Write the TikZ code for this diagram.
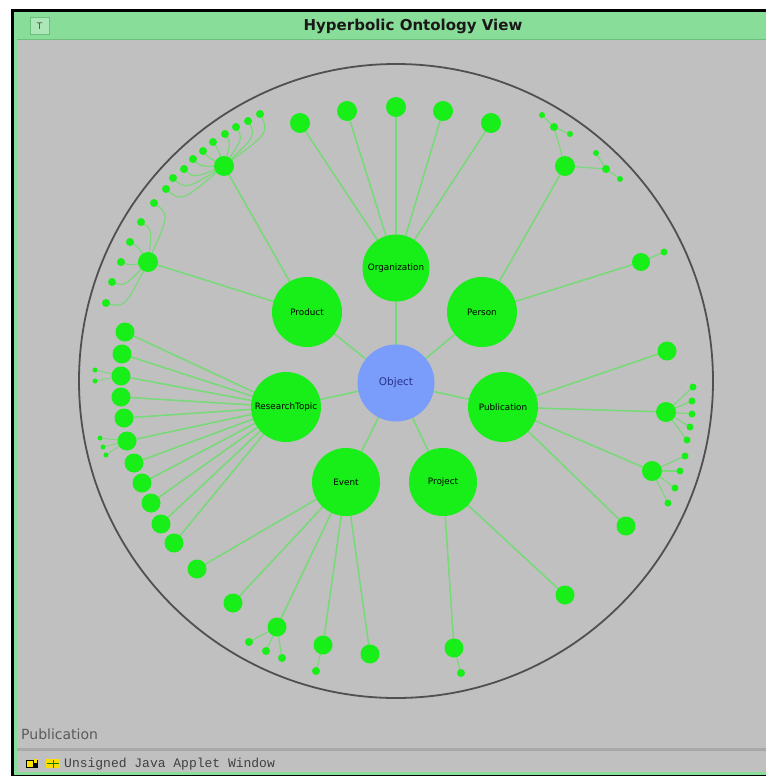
\documentclass[tikz,border=0pt]{standalone}
\usepackage{fontspec}
\setmainfont{DejaVu Sans}
\newfontfamily\monofont{Liberation Mono}
\usetikzlibrary{calc}
\definecolor{winbg}{RGB}{192,192,192}
\definecolor{titlegreen}{RGB}{136,222,152}
\definecolor{titleedge}{RGB}{112,190,126}
\definecolor{ngreen}{RGB}{24,238,24}
\definecolor{egreen}{RGB}{118,218,118}
\definecolor{objblue}{RGB}{122,156,250}
\definecolor{objtext}{RGB}{40,50,140}
\definecolor{rimgray}{RGB}{80,80,80}
\definecolor{sepgray}{RGB}{168,168,168}
\definecolor{stattext}{RGB}{90,90,90}
\pgfdeclarelayer{bg}
\pgfdeclarelayer{edges}
\pgfsetlayers{bg,edges,main}
\begin{document}
\begin{tikzpicture}[x=1pt,y=-1pt,
  big/.style={circle,fill=ngreen,minimum size=70pt,inner sep=0pt,text=black,font=\fontsize{8.8}{9}\selectfont},
  kid/.style={circle,fill=ngreen,minimum size=19pt,inner sep=0pt},
  dot/.style={circle,fill=ngreen,minimum size=8pt,inner sep=0pt},
  tiny/.style={circle,fill=ngreen,minimum size=6pt,inner sep=0pt},
  link/.style={draw=egreen,line width=1.5pt},
  twig/.style={draw=egreen,line width=1.1pt}]
\useasboundingbox (0,0) rectangle (766,776);
% ---------- window ----------
\begin{pgfonlayer}{bg}
\fill[white] (0,0) rectangle (766,776);
\fill[black] (11,9) rectangle (766,12);
\fill[black] (11,9) rectangle (14,776);
\fill[titlegreen] (14,12) rectangle (766,40);
\fill[titlegreen] (14,12) rectangle (17,776);
\fill[winbg] (17,40) rectangle (766,771.5);
\fill[titleedge] (17,39) rectangle (766,40.5);
\fill[sepgray] (17,748) rectangle (766,750.5);
\fill[titlegreen] (14,771.5) rectangle (766,774.5);
\fill[black] (14,774.5) rectangle (766,776);
\draw[rimgray,line width=1.8pt] (396,381) circle[radius=317pt];
% status bar icons
\fill[black] (26,760) rectangle (38,768);
\fill[yellow!85!orange] (27,761) rectangle (33,767);
\fill[yellow!85!orange] (34,759) rectangle (37,763);
\fill[yellow!80!orange] (46,759) rectangle (60,768);
\draw[green!50!black,line width=0.8pt] (47,763.5) -- (59,763.5) (53,759.5) -- (53,767.5);
\end{pgfonlayer}
\node[draw=titleedge,line width=1pt,fill=titlegreen!70!white,minimum width=19pt,minimum height=17pt,inner sep=0pt,text=black!70,font=\fontsize{9}{9}\selectfont] (icon) at (39.5,26) {T};
\node[font=\bfseries\fontsize{15}{15}\selectfont,text=black!90] (title) at (413,26) {Hyperbolic Ontology View};
\node[anchor=west,font=\fontsize{14}{14}\selectfont,text=stattext,inner sep=0pt] (selected) at (21,734) {Publication};
\node[anchor=west,font=\monofont\fontsize{13}{13}\selectfont,text=black!75,inner sep=0pt] (applet) at (64,764) {Unsigned Java Applet Window};
% ---------- main nodes ----------
\node[circle,fill=objblue,minimum size=77pt,inner sep=0pt,text=objtext,font=\fontsize{10.5}{11}\selectfont] (O) at (396,383) {Object};
\node[big,minimum size=67pt] (org) at (396,268) {Organization};
\node[big] (prod) at (307,312) {Product};
\node[big] (pers) at (482,312) {Person};
\node[big] (rt) at (286,407) {ResearchTopic};
\node[big] (pub) at (503,407) {Publication};
\node[big,minimum size=68pt] (ev) at (346,482) {Event};
\node[big,minimum size=68pt] (proj) at (443,482) {Project};
% Organization children
\foreach \x/\y [count=\i] in {300/123,347/111,396/107,443/111,491/123}
  \node[kid,minimum size=20pt] (oc\i) at (\x,\y) {};
% Product children
\node[kid,minimum size=20pt] (p1) at (224,166) {};
\node[kid,minimum size=20pt] (p2) at (148,262) {};
\foreach \x/\y [count=\i] in {260/114,248/121,236/127,225/134,213/142,203/151,193/159,184/169,173/178,166/189}
  \node[dot] (pa\i) at (\x,\y) {};
\foreach \x/\y [count=\i] in {154/203,141/222,130/242,121/262,112/282,106/303}
  \node[dot] (pb\i) at (\x,\y) {};
% Person children
\node[kid,minimum size=20pt] (q1) at (565,166) {};
\node[kid,minimum size=18pt] (q2) at (641,262) {};
\node[dot] (q11) at (554,127) {};
\node[dot] (q12) at (606,169) {};
\node[tiny] (q111) at (542,115) {};
\node[tiny] (q112) at (570,134) {};
\node[tiny] (q121) at (596,153) {};
\node[tiny] (q122) at (620,179) {};
\node[dot,minimum size=7pt] (q21) at (664,252) {};
% ResearchTopic children
\foreach \x/\y [count=\i] in {125/332,122/354,121/376,121/397,124/418,127/441,134/463,142/483,151/503,161/524,174/543}
  \node[kid] (r\i) at (\x,\y) {};
\node[tiny,minimum size=5pt] (r31) at (95,370) {};
\node[tiny,minimum size=5pt] (r32) at (95,381) {};
\foreach \x/\y [count=\i] in {100/438,103/447,106/455}
  \node[tiny,minimum size=5pt] (r6\i) at (\x,\y) {};
% Publication children
\node[kid] (u1) at (667,351) {};
\node[kid,minimum size=20pt] (u2) at (666,412) {};
\node[kid,minimum size=20pt] (u3) at (652,471) {};
\node[kid] (u4) at (626,526) {};
\foreach \x/\y [count=\i] in {693/387,692/401,692/414,690/427,687/440}
  \node[dot,minimum size=7pt] (ua\i) at (\x,\y) {};
\foreach \x/\y [count=\i] in {685/456,680/471,675/488,668/503}
  \node[dot,minimum size=7pt] (ub\i) at (\x,\y) {};
% Event children
\foreach \x/\y [count=\i] in {197/569,233/603,277/627,323/645,370/654}
  \node[kid] (e\i) at (\x,\y) {};
\node[dot] (e31) at (249,642) {};
\node[dot] (e32) at (266,651) {};
\node[dot] (e33) at (282,658) {};
\node[dot] (e41) at (316,671) {};
% Project children
\node[kid] (j1) at (454,648) {};
\node[kid] (j2) at (565,595) {};
\node[dot] (j11) at (461,673) {};
% ---------- connectors ----------
\begin{pgfonlayer}{edges}
\foreach \c in {org,prod,pers,rt,pub,ev,proj}
  \draw[link] (O.center) -- (\c.center);
\foreach \i in {1,...,5}
  \draw[link] (org.center) -- (oc\i.center);
\draw[link] (prod.center) -- (p1.center);
\draw[link] (prod.center) -- (p2.center);
\foreach \i in {1,...,10}
  \draw[twig] let \p1=($(p1)-(pa\i)$), \n1={0.33*veclen(\x1,\y1)} in
    (p1.center) .. controls ($(pa\i)!\n1!(O)$) .. (pa\i.center);
\foreach \i in {1,...,6}
  \draw[twig] let \p1=($(p2)-(pb\i)$), \n1={0.33*veclen(\x1,\y1)} in
    (p2.center) .. controls ($(pb\i)!\n1!(O)$) .. (pb\i.center);
\draw[link] (pers.center) -- (q1.center);
\draw[link] (pers.center) -- (q2.center);
\draw[twig] (q1.center) -- (q11.center);
\draw[twig] (q1.center) -- (q12.center);
\draw[twig] (q11.center) -- (q111.center);
\draw[twig] (q11.center) -- (q112.center);
\draw[twig] (q12.center) -- (q121.center);
\draw[twig] (q12.center) -- (q122.center);
\draw[twig] (q2.center) -- (q21.center);
\foreach \i in {1,...,11}
  \draw[link] (rt.center) -- (r\i.center);
\draw[twig,line width=0.8pt] (r3.center) -- (r31.center);
\draw[twig,line width=0.8pt] (r3.center) -- (r32.center);
\foreach \i in {1,2,3}
  \draw[twig,line width=0.8pt] (r6.center) -- (r6\i.center);
\foreach \i in {1,...,4}
  \draw[link] (pub.center) -- (u\i.center);
\foreach \i in {1,...,5}
  \draw[twig] (u2.center) -- (ua\i.center);
\foreach \i in {1,...,4}
  \draw[twig] (u3.center) -- (ub\i.center);
\foreach \i in {1,...,5}
  \draw[link] (ev.center) -- (e\i.center);
\foreach \i in {1,2,3}
  \draw[twig] (e3.center) -- (e3\i.center);
\draw[twig] (e4.center) -- (e41.center);
\draw[link] (proj.center) -- (j1.center);
\draw[link] (proj.center) -- (j2.center);
\draw[twig] (j1.center) -- (j11.center);
\end{pgfonlayer}
\end{tikzpicture}
\end{document}
